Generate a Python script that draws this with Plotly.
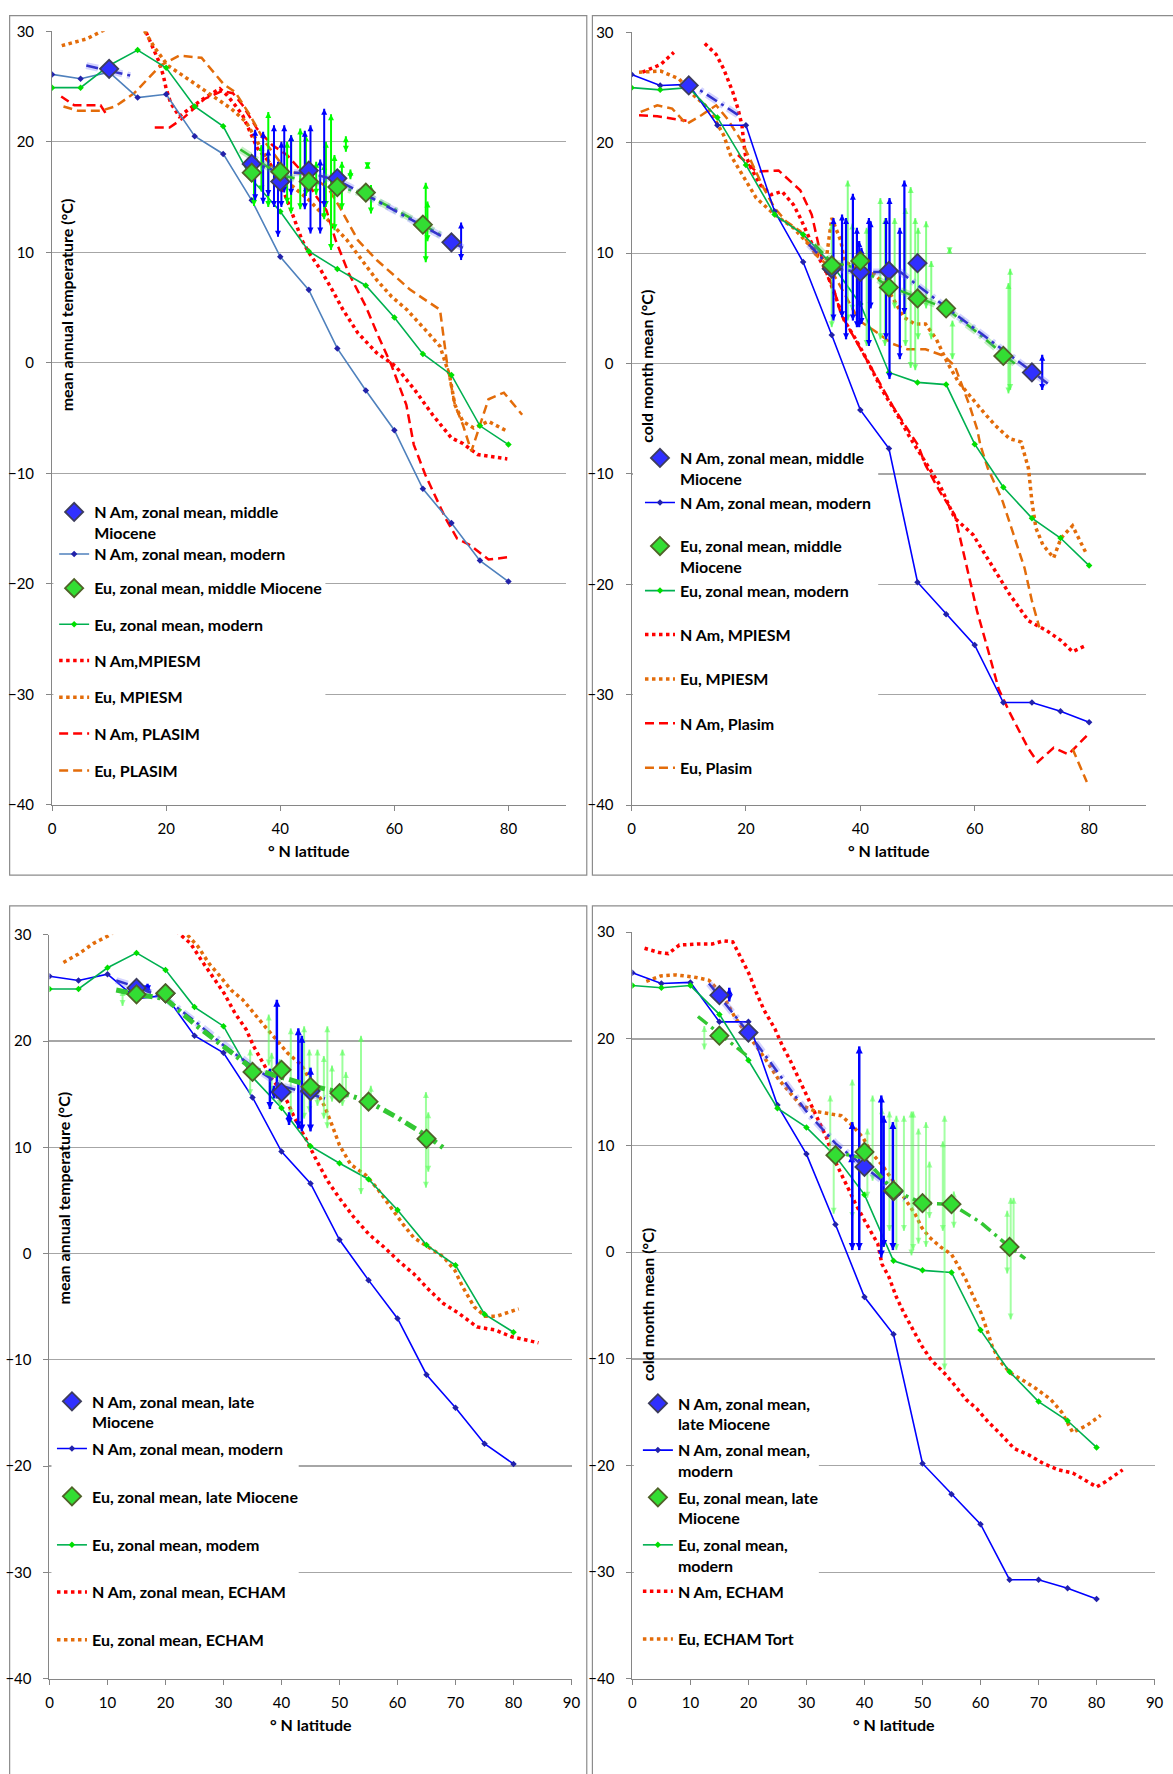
import plotly.graph_objects as go

W, H = 1173, 1774

# ====================== DATA ======================
lat_modern = [0, 5, 10, 15, 20, 25, 30, 35, 40, 45, 50, 55, 60, 65, 70, 75, 80]
nam_mat_modern = [26.1, 25.7, 26.3, 24.0, 24.3, 20.5, 18.9, 14.7, 9.6, 6.6, 1.3, -2.5, -6.1, -11.4, -14.5, -17.9, -19.8]
eu_mat_modern = [24.9, 24.9, 26.9, 28.3, 26.7, 23.2, 21.4, 16.6, 13.7, 10.1, 8.5, 7.0, 4.1, 0.8, -1.1, -5.7, -7.4]
nam_cmm_modern = [26.2, 25.2, 25.3, 21.6, 21.6, 13.8, 9.2, 2.6, -4.2, -7.7, -19.8, -22.7, -25.5, -30.7, -30.7, -31.5, -32.5]
eu_cmm_modern = [25.0, 24.8, 25.0, 22.3, 18.0, 13.5, 11.7, 9.0, 5.4, -0.8, -1.7, -1.9, -7.3, -11.2, -14.0, -15.8, -18.3]

# ---- panel A: mean annual temperature, middle Miocene ----
a_nam_mpiesm_lat = [16.0, 17.5, 18.7, 19.5, 20.0, 20.8, 22.3, 24.9, 26.8, 29.4, 30.7, 32.1, 33.4, 34.7, 36.0, 38.0, 39.9, 41.9, 43.8, 45.1, 47.1, 49.1, 51.0, 53.6, 56.9, 60.2, 63.5, 66.7, 70.0, 72.0, 74.6, 79.8]
a_nam_mpiesm_val = [30.5, 28.8, 27.3, 26.0, 24.8, 23.5, 22.3, 23.3, 24.0, 24.8, 24.2, 23.3, 22.4, 20.9, 19.4, 18.2, 16.4, 13.8, 11.1, 9.9, 8.4, 6.6, 4.8, 2.7, 0.9, -0.3, -2.4, -4.7, -6.8, -7.3, -8.3, -8.7]
a_eu_mpiesm_lat = [1.7, 4.0, 6.0, 8.3, 10.5, 13.0, 16.0, 18.0, 20.3, 22.9, 26.2, 28.8, 31.4, 34.0, 36.0, 38.0, 41.2, 45.1, 48.4, 51.7, 54.3, 56.9, 59.5, 62.2, 65.4, 68.0, 69.7, 70.6, 72.0, 73.9, 76.5, 79.8]
a_eu_mpiesm_val = [28.7, 29.0, 29.3, 29.9, 30.5, 31.0, 30.2, 28.5, 26.9, 26.0, 24.8, 23.9, 23.0, 21.8, 20.0, 18.2, 16.4, 14.7, 12.9, 11.1, 9.3, 7.5, 6.0, 4.8, 3.0, 1.5, -1.2, -3.8, -5.3, -5.9, -5.3, -6.2]
a_nam_plasim_lat = [1.6, 3.9, 8.5, 9.5, None, 18.0, 20.6, 22.9, 26.8, 29.8, 31.7, 33.4, 35.9, 38.6, 41.2, 43.8, 46.1, 48.1, 49.7, 52.0, 55.0, 57.2, 59.4, 62.1, 63.4, 65.4, 69.0, 71.0, 73.3, 76.5, 79.8]
a_nam_plasim_val = [24.1, 23.3, 23.3, 22.5, None, 21.3, 21.3, 22.1, 23.9, 24.6, 24.4, 23.3, 21.2, 19.7, 18.8, 17.3, 15.2, 13.8, 11.1, 8.1, 5.1, 2.4, -0.1, -3.8, -7.4, -10.1, -14.1, -15.9, -16.5, -17.8, -17.6]
a_eu_plasim_lat = [2.0, 4.6, 8.5, 11.1, 14.4, 19.0, 22.3, 26.2, 30.1, 32.1, 34.7, 37.3, 41.2, 45.1, 48.4, 50.4, 53.6, 56.9, 60.2, 62.8, 68.0, 69.3, 70.6, 72.0, 73.5, 76.5, 79.2, 82.4]
a_eu_plasim_val = [23.2, 22.8, 22.8, 23.2, 24.4, 26.9, 27.8, 27.6, 25.2, 24.5, 22.4, 20.0, 17.3, 17.0, 15.8, 14.1, 11.1, 9.3, 7.8, 6.6, 4.8, -0.3, -3.8, -5.6, -8.0, -3.3, -2.7, -4.7]
a_nam_mm_lat = [10, 35, 40, 45, 50, 70]
a_nam_mm_val = [26.6, 18.0, 16.4, 17.4, 16.7, 10.9]
a_eu_mm_lat = [35, 40, 45, 50, 55, 65]
a_eu_mm_val = [17.2, 17.3, 16.4, 15.9, 15.4, 12.5]
a_nam_trend_lat = [6, 14.5, None, 34, 40, 45, 50, 55, 60, 65, 72]
a_nam_trend_val = [26.9, 25.9, None, 18.3, 17.2, 17.2, 16.5, 15.2, 13.8, 12.4, 10.4]
a_eu_trend_lat = [33, 40, 45, 50, 55, 60, 65, 68]
a_eu_trend_val = [19.3, 17.0, 16.4, 16.0, 15.2, 13.9, 12.5, 11.6]
a_nam_bar_lat = [35.6, 37.0, 37.9, 38.9, 39.6, 40.2, 40.7, 41.9, 44.3, 45.3, 47.0, 47.7, 71.7]
a_nam_bar_hi = [21.1, 20.9, 19.3, 21.5, 18.2, 20.0, 21.5, 20.6, 21.0, 21.5, 18.4, 23.0, 12.7]
a_nam_bar_lo = [14.7, 14.4, 15.1, 14.1, 11.4, 14.1, 15.4, 15.2, 13.9, 11.7, 11.7, 14.1, 9.3]
a_eu_bar_lat = [35.4, 36.7, 37.9, 41.2, 41.9, 43.5, 44.5, 46.3, 47.7, 48.0, 48.9, 49.5, 50.8, 51.5, 52.3, 55.3, 55.9, 65.5, 65.8]
a_eu_bar_hi = [17.9, 19.7, 22.7, 20.0, 20.6, 21.2, 20.6, 18.2, 18.0, 20.0, 22.5, 18.8, 18.2, 20.5, 17.5, 18.1, 16.1, 16.3, 14.6]
a_eu_bar_lo = [14.2, 15.5, 14.1, 14.4, 13.5, 13.9, 15.1, 15.2, 13.0, 14.1, 10.2, 12.0, 13.9, 19.1, 16.6, 17.6, 13.5, 9.1, 11.0]

# ---- panel B: cold month mean, middle Miocene ----
b_nam_mpiesm_lat = [1.9, 5.1, 7.4, None, 12.8, 14.8, 16.1, 17.7, 18.6, 19.3, 19.6, 19.9, 20.9, 22.5, 24.4, 26.3, 28.3, 29.5, 30.8, 32.1, 34.0, 35.3, 37.2, 39.2, 41.1, 43.7, 46.2, 48.8, 51.4, 53.9, 56.5, 59.7, 62.9, 66.1, 69.4, 72.6, 75.1, 77.1, 79.6]
b_nam_mpiesm_val = [26.4, 27.1, 28.2, None, 29.0, 28.0, 26.7, 24.6, 23.1, 21.6, 20.1, 18.9, 17.7, 16.2, 15.3, 15.6, 14.4, 13.2, 11.7, 10.2, 8.4, 6.6, 3.9, 2.2, 0.4, -2.3, -4.4, -6.8, -8.9, -11.0, -14.0, -15.5, -18.2, -20.9, -23.3, -24.2, -25.1, -26.1, -25.5]
b_eu_mpiesm_lat = [1.3, 5.1, 8.3, 10.9, 13.5, 16.1, 17.3, 19.3, 21.8, 25.0, 28.3, 31.5, 34.0, 35.0, 36.6, 37.2, 39.8, 42.4, 44.3, 45.6, 47.6, 49.5, 51.4, 53.3, 55.2, 57.2, 59.1, 61.7, 63.6, 66.1, 68.1, 69.4, 70.0, 70.7, 71.9, 73.8, 75.1, 77.1, 79.6]
b_eu_mpiesm_val = [26.4, 26.5, 25.8, 24.3, 23.1, 20.7, 18.9, 17.1, 15.0, 13.5, 12.3, 10.5, 9.3, 13.2, 11.1, 9.3, 8.4, 8.1, 7.2, 6.0, 4.2, 3.6, 3.6, 2.2, 0.1, -1.7, -2.9, -4.5, -5.6, -6.8, -7.1, -9.5, -12.5, -14.9, -16.4, -17.6, -15.8, -14.7, -17.3]
b_nam_plasim_lat = [1.3, 4.5, 9.6, None, 18.6, 21.8, 25.7, 29.5, 31.5, 32.8, 34.0, 35.3, 36.6, 38.5, 40.5, 43.0, 45.6, 48.2, 50.1, 51.4, 53.9, 56.5, 58.4, 60.4, 62.3, 64.2, 66.1, 69.4, 71.0, 73.8, 76.4, 79.6]
b_nam_plasim_val = [22.5, 22.4, 22.0, None, 18.9, 17.4, 17.5, 15.7, 13.5, 10.5, 8.1, 6.9, 4.5, 2.7, 0.9, -1.4, -3.8, -5.9, -7.4, -9.2, -11.6, -13.7, -17.9, -22.4, -25.9, -29.5, -31.6, -34.9, -36.1, -34.8, -35.4, -33.7]
b_eu_plasim_lat = [1.6, 4.5, 7.1, 9.6, 12.2, 14.8, 16.7, 19.3, 21.2, 23.1, 25.0, 27.0, 29.5, 32.1, 34.7, 37.2, 39.8, 42.4, 45.6, 48.2, 51.4, 54.6, 56.5, 57.8, 59.1, 60.4, 61.0, 62.3, 64.9, 66.8, 68.7, 70.0, 71.3, None, 77.1, 79.6]
b_eu_plasim_val = [22.8, 23.4, 23.1, 21.7, 22.5, 23.4, 22.2, 20.1, 18.0, 15.9, 14.1, 12.9, 12.0, 9.9, 8.7, 6.3, 3.9, 3.0, 1.8, 1.3, 1.3, 0.7, -0.2, -2.0, -3.8, -5.9, -7.4, -9.5, -12.5, -15.5, -18.5, -21.5, -23.9, None, -34.9, -37.9]
b_nam_mm_lat = [10, 35, 40, 45, 50, 70]
b_nam_mm_val = [25.2, 8.6, 8.3, 8.4, 9.1, -0.8]
b_eu_mm_lat = [35, 40, 45, 50, 55, 65]
b_eu_mm_val = [8.9, 9.3, 6.9, 5.9, 5.0, 0.7]
b_nam_trend_lat = [9.5, 19.0, None, 31, 35, 40, 47, 55, 65, 73]
b_nam_trend_val = [25.6, 22.4, None, 10.8, 8.6, 8.3, 8.3, 5.1, 1.2, -1.9]
b_eu_trend_lat = [32, 35, 40, 45, 50, 55, 60, 67]
b_eu_trend_val = [10.8, 9.2, 8.6, 7.0, 6.0, 5.0, 3.0, 0.0]
b_nam_bar_lat = [35.3, 36.8, 37.5, 38.7, 39.4, 39.8, 40.2, 41.5, 41.8, 44.5, 45.1, 46.9, 47.7, 71.8]
b_nam_bar_hi = [13.2, 13.5, 13.2, 15.4, 12.3, 11.1, 10.5, 13.2, 12.9, 13.2, 15.0, 12.3, 16.6, 0.8]
b_nam_bar_lo = [3.9, 4.2, 2.2, 3.9, 3.3, 3.3, 3.6, 1.6, 5.0, 2.2, -1.4, 0.4, 4.5, -2.4]
b_eu_bar_lat = [35.0, 37.8, 38.6, 41.1, 43.5, 44.3, 46.0, 47.9, 48.8, 49.6, 50.1, 51.5, 52.4, 55.6, 56.1, 65.9, 66.2]
b_eu_bar_hi = [12.7, 16.6, 12.7, 12.3, 15.0, 13.2, 13.2, 14.1, 16.0, 13.2, 12.3, 12.9, 9.3, 10.5, 3.9, 7.3, 8.6]
b_eu_bar_lo = [3.3, 3.9, 4.8, 1.6, 2.2, 1.6, 5.0, 1.6, -0.4, -0.6, 2.2, 5.0, 2.2, 10.0, 0.4, -2.7, -2.4]

# ---- panel C: mean annual temperature, late Miocene ----
c_nam_echam_lat = [20.0, 22.3, 24.3, 26.2, 28.1, 30.1, 32.0, 33.9, 35.2, 37.1, 38.4, 39.7, 41.0, 42.3, 44.2, 46.1, 48.0, 50.0, 52.5, 55.1, 57.7, 60.2, 62.8, 65.4, 67.9, 70.5, 73.7, 76.9, 79.5, 84.3]
c_nam_echam_val = [31.2, 30.1, 29.2, 27.6, 26.1, 24.5, 22.6, 21.1, 19.5, 17.7, 16.4, 15.5, 14.3, 12.7, 10.8, 8.7, 6.8, 5.2, 3.4, 1.8, 0.6, -0.7, -1.9, -3.4, -4.7, -5.6, -6.9, -7.2, -7.8, -8.4]
c_eu_echam_lat = [2.4, 5.0, 7.6, 10.1, 12.0, 16.0, 20.0, 23.6, 25.6, 27.5, 29.4, 31.3, 33.3, 35.2, 37.1, 39.0, 41.0, 43.5, 45.5, 47.4, 48.7, 50.0, 51.9, 54.5, 56.4, 58.9, 60.9, 62.8, 65.4, 67.9, 69.9, 71.2, 73.2, 75.1, 77.1, 80.9]
c_eu_echam_val = [27.4, 28.2, 29.2, 29.9, 30.6, 31.5, 31.3, 30.1, 28.9, 27.3, 26.1, 24.8, 23.9, 22.6, 21.4, 20.2, 18.9, 17.7, 15.8, 13.9, 12.1, 10.2, 8.4, 7.4, 6.2, 4.3, 2.8, 1.5, 0.6, -0.3, -1.6, -3.1, -5.0, -5.9, -5.9, -5.2]
c_nam_lm_lat = [15, 20, 40, 45]
c_nam_lm_val = [25.0, 24.5, 15.2, 15.3]
c_eu_lm_lat = [15, 20, 35, 40, 45, 50, 55, 65]
c_eu_lm_val = [24.4, 24.5, 17.1, 17.3, 15.7, 15.1, 14.3, 10.8]
c_nam_trend_lat = [11.5, 15, 20, 25, 30, 35, 40, 47.5]
c_nam_trend_val = [25.7, 25.1, 24.0, 21.9, 19.6, 17.6, 15.8, 14.6]
c_eu_trend_lat = [11.5, 15, 20, 25, 30, 35, 40, 45, 50, 55, 60, 65, 68.3]
c_eu_trend_val = [24.8, 24.4, 24.0, 21.6, 19.5, 17.4, 16.6, 15.8, 15.2, 14.3, 12.8, 11.1, 9.8]
c_nam_bar_lat = [16.9, 38.0, 38.7, 39.2, 41.3, 42.9, 43.5, 45.0]
c_nam_bar_hi = [25.4, 17.4, 15.8, 23.9, 13.3, 21.2, 20.5, 17.5]
c_nam_bar_lo = [24.6, 13.6, 14.6, 14.6, 12.1, 11.8, 11.5, 11.5]
c_eu_bar_lat = [12.6, 34.6, 37.8, 38.3, 39.7, 41.6, 43.9, 44.8, 46.2, 47.3, 47.9, 48.7, 50.5, 51.1, 53.7, 55.4, 64.9, 65.3]
c_eu_bar_hi = [24.8, 19.2, 22.5, 18.9, 18.3, 21.2, 21.4, 19.2, 19.2, 18.6, 21.4, 17.7, 19.2, 17.1, 20.5, 15.8, 15.2, 13.3]
c_eu_bar_lo = [23.3, 14.9, 17.7, 15.2, 13.9, 13.0, 12.7, 13.3, 13.9, 12.7, 11.8, 14.3, 13.9, 14.6, 5.6, 13.6, 6.2, 7.7]

# ---- panel D: cold month mean, late Miocene ----
d_nam_echam_lat = [2.1, 4.6, 6.2, 8.1, 11.3, 13.8, 15.7, 17.3, 18.9, 20.2, 21.4, 22.7, 24.6, 25.9, 27.1, 28.4, 29.7, 30.9, 31.9, 33.5, 34.7, 36.0, 37.3, 38.5, 40.4, 42.3, 43.0, 44.2, 45.5, 46.8, 48.7, 49.9, 51.5, 53.7, 55.6, 57.5, 59.4, 61.3, 63.2, 65.8, 68.3, 70.8, 73.4, 75.9, 78.1, 80.0, 81.6, 84.5]
d_nam_echam_val = [28.5, 28.1, 28.0, 28.8, 28.9, 28.9, 29.2, 29.1, 27.4, 26.0, 24.3, 22.7, 20.9, 19.3, 18.1, 16.6, 15.0, 13.8, 12.5, 10.7, 8.8, 7.3, 5.7, 4.5, 2.6, 0.8, -1.1, -2.3, -4.2, -5.7, -7.6, -8.8, -10.1, -11.3, -12.5, -13.8, -14.7, -15.9, -16.9, -18.4, -19.0, -19.8, -20.4, -20.7, -21.4, -22.0, -21.5, -20.4]
d_eu_echam_lat = [2.4, 4.9, 7.5, 10.6, 13.2, 15.1, 16.3, 17.6, 19.5, 21.4, 23.3, 25.2, 27.1, 29.0, 31.6, 34.1, 36.0, 37.9, 39.8, 41.1, 43.0, 44.9, 46.8, 48.7, 49.9, 51.2, 53.1, 55.0, 56.3, 57.5, 58.8, 60.1, 61.3, 62.0, 63.2, 65.1, 67.0, 69.6, 72.1, 74.0, 75.9, 78.4, 80.7]
d_eu_echam_val = [25.4, 25.9, 26.0, 25.8, 25.5, 24.4, 23.4, 22.1, 20.6, 19.3, 17.8, 16.2, 15.0, 13.8, 13.2, 13.0, 12.8, 11.9, 10.7, 9.4, 8.2, 6.7, 5.1, 3.6, 2.3, 1.4, 0.5, -0.2, -1.4, -2.6, -4.2, -5.7, -7.6, -8.8, -10.1, -11.3, -11.9, -12.8, -13.8, -15.0, -16.9, -16.2, -15.3]
d_nam_lm_lat = [15, 20, 40, 45]
d_nam_lm_val = [24.1, 20.6, 8.0, 5.7]
d_eu_lm_lat = [15, 35, 40, 45, 50, 55, 65]
d_eu_lm_val = [20.3, 9.1, 9.4, 5.8, 4.6, 4.5, 0.5]
d_nam_trend_lat = [13.2, 15, 20, 25, 30, 35, 40, 45, 47]
d_nam_trend_val = [25.2, 24.0, 20.6, 16.9, 13.2, 10.2, 8.0, 5.9, 5.0]
d_eu_trend_lat = [11.3, 19.8, None, 34, 40, 45, 50, 55, 60, 65, 67.7]
d_eu_trend_val = [22.1, 18.4, None, 9.5, 8.8, 5.8, 4.6, 4.5, 2.8, 0.5, -0.6]
d_nam_bar_lat = [16.7, 37.8, 37.9, 39.1, 42.9, 43.3, 44.9]
d_nam_bar_hi = [24.8, 9.1, 12.2, 19.3, 14.7, 12.8, 12.2]
d_nam_bar_lo = [23.5, 8.5, 0.2, 0.2, -0.5, 0.5, 0.2]
d_eu_bar_lat = [12.4, 34.1, 34.7, 37.9, 40.5, 41.4, 43.0, 44.3, 45.5, 46.8, 48.1, 48.4, 49.3, 50.6, 51.2, 53.5, 53.8, 55.4, 64.6, 65.2, 65.7]
d_eu_bar_hi = [21.2, 14.7, 9.1, 16.2, 11.6, 14.7, 13.5, 13.2, 12.8, 12.8, 13.2, 13.2, 11.6, 12.2, 8.5, 10.4, 12.8, 5.7, 3.9, 5.1, 5.1]
d_eu_bar_lo = [19.0, 9.1, 3.6, 3.2, 5.1, 6.7, 0.2, 2.0, 0.2, 2.0, -0.3, 0.2, 0.8, 0.5, 3.2, 2.0, -11.0, 2.3, -2.0, -6.3, 0.2]

# ====================== STYLE / LAYOUT ======================
FONT = "Lato"
RED = "#ff0000"
ORANGE = "#e36c0a"
BLUE = "#0000ff"
STEEL = "#4f81bd"
EUGREEN = "#00b050"

# panel geometry in page pixels: x-range 0..90, y-range -40..30
PANELS = {
    "a": dict(xpx=(48.6, 567.8), ypx=(21.5, 803.0), xa="x", ya="y", dtick=20),
    "b": dict(xpx=(634.6, 1155.1), ypx=(22.7, 803.3), xa="x2", ya="y2", dtick=20),
    "c": dict(xpx=(46.0, 573.9), ypx=(934.3, 1685.7), xa="x3", ya="y3", dtick=10),
    "d": dict(xpx=(635.4, 1163.5), ypx=(931.7, 1686.0), xa="x4", ya="y4", dtick=10),
}

fig = go.Figure()
legends = {}
leg_count = [0]
LEGFONT = dict(family=FONT, size=16, color="#000000", weight="bold")
LEG_OFFSET = 20.5


def new_legend(left_px, line1_px):
    leg_count[0] += 1
    k = leg_count[0]
    key = "legend" if k == 1 else "legend%d" % k
    legends[key] = dict(x=left_px / W, y=1 - (line1_px - LEG_OFFSET) / H, xanchor="left", yanchor="top",
                        bgcolor="rgba(0,0,0,0)", borderwidth=0, font=LEGFONT, valign="top",
                        itemclick=False, itemdoubleclick=False)
    return key


def line(p, x, y, color, width, dash="solid", marker=None, name=None, leg=None):
    P = PANELS[p]
    kw = dict(x=x, y=y, xaxis=P["xa"], yaxis=P["ya"], hoverinfo="skip",
              line=dict(color=color, width=width, dash=dash), connectgaps=False)
    if marker:
        kw["mode"] = "lines+markers"
        kw["marker"] = marker
    else:
        kw["mode"] = "lines"
    if leg:
        kw["name"] = name
        kw["legend"] = leg
        kw["showlegend"] = True
    else:
        kw["showlegend"] = False
    fig.add_trace(go.Scatter(**kw))


def diamonds(p, x, y, fill, edge, name, leg):
    P = PANELS[p]
    fig.add_trace(go.Scatter(x=x, y=y, xaxis=P["xa"], yaxis=P["ya"], mode="markers", name=name,
                             legend=leg, showlegend=True, hoverinfo="skip",
                             marker=dict(symbol="diamond", size=14, color=fill,
                                         line=dict(color=edge, width=1.8))))


def bars(p, lat, hi, lo, color, width, asize):
    P = PANELS[p]
    mid = [(h + l) / 2 for h, l in zip(hi, lo)]
    err = [(h - l) / 2 for h, l in zip(hi, lo)]
    fig.add_trace(go.Scatter(x=lat, y=mid, xaxis=P["xa"], yaxis=P["ya"], mode="markers",
                             marker=dict(size=1, opacity=0), showlegend=False, hoverinfo="skip",
                             error_y=dict(type="data", array=err, symmetric=True, color=color,
                                          thickness=width, width=0)))
    fig.add_trace(go.Scatter(x=lat, y=hi, xaxis=P["xa"], yaxis=P["ya"], mode="markers",
                             marker=dict(symbol="arrow-up", size=asize, color=color),
                             showlegend=False, hoverinfo="skip"))
    fig.add_trace(go.Scatter(x=lat, y=lo, xaxis=P["xa"], yaxis=P["ya"], mode="markers",
                             marker=dict(symbol="arrow-down", size=asize, color=color),
                             showlegend=False, hoverinfo="skip"))


DASHDOT = "12px,5px,3px,5px"
DOT = "3.5px,3.5px"
DASH = "9px,5px"
nam_mod_marker = dict(symbol="diamond", size=5, color="#2222aa")
eu_mod_marker = dict(symbol="diamond", size=5, color="#00e000")
NAM_DIA = ("#3030ff", "#3d3d5c")
EU_DIA = ("#33dd33", "#4f6228")

# ---------------- panel A ----------------
LA, TA = 50.7, [510.5, 553.0, 587.5, 624.0, 660.7, 697.7, 734.3, 771.7]
line("a", a_nam_mpiesm_lat, a_nam_mpiesm_val, RED, 3.5, DOT)
line("a", a_eu_mpiesm_lat, a_eu_mpiesm_val, ORANGE, 3.5, DOT)
line("a", a_nam_plasim_lat, a_nam_plasim_val, RED, 2.5, DASH)
line("a", a_eu_plasim_lat, a_eu_plasim_val, ORANGE, 2.5, DASH)
line("a", lat_modern, nam_mat_modern, STEEL, 1.6, marker=nam_mod_marker)
line("a", lat_modern, eu_mat_modern, EUGREEN, 1.6, marker=eu_mod_marker)
bars("a", a_eu_bar_lat, a_eu_bar_hi, a_eu_bar_lo, "#00ff00", 2, 6)
bars("a", a_nam_bar_lat, a_nam_bar_hi, a_nam_bar_lo, BLUE, 2, 6)
line("a", a_eu_trend_lat, a_eu_trend_val, "rgba(60,200,60,0.3)", 7, DASHDOT)
line("a", a_eu_trend_lat, a_eu_trend_val, "#2fbf2f", 2.5, DASHDOT)
line("a", a_nam_trend_lat, a_nam_trend_val, "rgba(110,110,255,0.3)", 7, DASHDOT)
line("a", a_nam_trend_lat, a_nam_trend_val, "#3333cc", 2.5, DASHDOT)
diamonds("a", a_nam_mm_lat, a_nam_mm_val, *NAM_DIA, "N Am, zonal mean, middle<br>Miocene", new_legend(LA, TA[0]))
line("a", [None], [None], STEEL, 1.6, marker=nam_mod_marker, name="N Am, zonal mean, modern", leg=new_legend(LA, TA[1]))
diamonds("a", a_eu_mm_lat, a_eu_mm_val, *EU_DIA, "Eu, zonal mean, middle Miocene", new_legend(LA, TA[2]))
line("a", [None], [None], EUGREEN, 1.6, marker=eu_mod_marker, name="Eu, zonal mean, modern", leg=new_legend(LA, TA[3]))
line("a", [None], [None], RED, 3.5, DOT, name="N Am,MPIESM", leg=new_legend(LA, TA[4]))
line("a", [None], [None], ORANGE, 3.5, DOT, name="Eu, MPIESM", leg=new_legend(LA, TA[5]))
line("a", [None], [None], RED, 2.5, DASH, name="N Am, PLASIM", leg=new_legend(LA, TA[6]))
line("a", [None], [None], ORANGE, 2.5, DASH, name="Eu, PLASIM", leg=new_legend(LA, TA[7]))

# ---------------- panel B ----------------
LB, TB = 643.1, [456.0, 501.0, 545.0, 590.0, 634.3, 679.3, 724.0, 769.0]
line("b", b_nam_mpiesm_lat, b_nam_mpiesm_val, RED, 3.5, DOT)
line("b", b_eu_mpiesm_lat, b_eu_mpiesm_val, ORANGE, 3.5, DOT)
line("b", b_nam_plasim_lat, b_nam_plasim_val, RED, 2.5, DASH)
line("b", b_eu_plasim_lat, b_eu_plasim_val, ORANGE, 2.5, DASH)
line("b", lat_modern, nam_cmm_modern, BLUE, 1.6, marker=nam_mod_marker)
line("b", lat_modern, eu_cmm_modern, EUGREEN, 1.6, marker=eu_mod_marker)
bars("b", b_eu_bar_lat, b_eu_bar_hi, b_eu_bar_lo, "rgba(70,255,70,0.65)", 2, 6)
bars("b", b_nam_bar_lat, b_nam_bar_hi, b_nam_bar_lo, BLUE, 2.2, 6)
line("b", b_eu_trend_lat, b_eu_trend_val, "rgba(60,200,60,0.3)", 7, DASHDOT)
line("b", b_eu_trend_lat, b_eu_trend_val, "#2fbf2f", 2.5, DASHDOT)
line("b", b_nam_trend_lat, b_nam_trend_val, "rgba(110,110,255,0.3)", 7, DASHDOT)
line("b", b_nam_trend_lat, b_nam_trend_val, "#3333cc", 2.5, DASHDOT)
diamonds("b", b_nam_mm_lat, b_nam_mm_val, *NAM_DIA, "N Am, zonal mean, middle<br>Miocene", new_legend(LB, TB[0]))
line("b", [None], [None], BLUE, 1.6, marker=nam_mod_marker, name="N Am, zonal mean, modern", leg=new_legend(LB, TB[1]))
diamonds("b", b_eu_mm_lat, b_eu_mm_val, *EU_DIA, "Eu, zonal mean, middle<br>Miocene", new_legend(LB, TB[2]))
line("b", [None], [None], EUGREEN, 1.6, marker=eu_mod_marker, name="Eu, zonal mean, modern", leg=new_legend(LB, TB[3]))
line("b", [None], [None], RED, 3.5, DOT, name="N Am, MPIESM", leg=new_legend(LB, TB[4]))
line("b", [None], [None], ORANGE, 3.5, DOT, name="Eu, MPIESM", leg=new_legend(LB, TB[5]))
line("b", [None], [None], RED, 2.5, DASH, name="N Am, Plasim", leg=new_legend(LB, TB[6]))
line("b", [None], [None], ORANGE, 2.5, DASH, name="Eu, Plasim", leg=new_legend(LB, TB[7]))

# ---------------- panel C ----------------
LC, TC = 48.5, [1409.0, 1456.7, 1505.0, 1554.0, 1601.7, 1650.0]
line("c", c_nam_echam_lat, c_nam_echam_val, RED, 3.5, DOT)
line("c", c_eu_echam_lat, c_eu_echam_val, ORANGE, 3.5, DOT)
line("c", lat_modern, nam_mat_modern, BLUE, 1.6, marker=nam_mod_marker)
line("c", lat_modern, eu_mat_modern, EUGREEN, 1.6, marker=eu_mod_marker)
bars("c", c_eu_bar_lat, c_eu_bar_hi, c_eu_bar_lo, "rgba(90,255,90,0.6)", 2, 6)
bars("c", c_nam_bar_lat, c_nam_bar_hi, c_nam_bar_lo, BLUE, 2.5, 7)
line("c", c_nam_trend_lat, c_nam_trend_val, "rgba(110,110,255,0.3)", 7, DASHDOT)
line("c", c_nam_trend_lat, c_nam_trend_val, "#3333cc", 2.5, DASHDOT)
line("c", c_eu_trend_lat, c_eu_trend_val, "#33c733", 5, DASHDOT)
diamonds("c", c_nam_lm_lat, c_nam_lm_val, *NAM_DIA, "N Am, zonal mean, late<br>Miocene", new_legend(LC, TC[0]))
line("c", [None], [None], BLUE, 1.6, marker=nam_mod_marker, name="N Am, zonal mean, modern", leg=new_legend(LC, TC[1]))
diamonds("c", c_eu_lm_lat, c_eu_lm_val, *EU_DIA, "Eu, zonal mean, late Miocene", new_legend(LC, TC[2]))
line("c", [None], [None], EUGREEN, 1.6, marker=eu_mod_marker, name="Eu, zonal mean, modem", leg=new_legend(LC, TC[3]))
line("c", [None], [None], RED, 3.5, DOT, name="N Am, zonal mean, ECHAM", leg=new_legend(LC, TC[4]))
line("c", [None], [None], ORANGE, 3.5, DOT, name="Eu, zonal mean, ECHAM", leg=new_legend(LC, TC[5]))

# ---------------- panel D ----------------
LD, TD = 641.0, [1411.0, 1458.3, 1506.0, 1554.0, 1601.0, 1649.0]
line("d", d_nam_echam_lat, d_nam_echam_val, RED, 3.5, DOT)
line("d", d_eu_echam_lat, d_eu_echam_val, ORANGE, 3.5, DOT)
line("d", lat_modern, nam_cmm_modern, BLUE, 1.6, marker=nam_mod_marker)
line("d", lat_modern, eu_cmm_modern, EUGREEN, 1.6, marker=eu_mod_marker)
bars("d", d_eu_bar_lat, d_eu_bar_hi, d_eu_bar_lo, "rgba(90,255,90,0.55)", 2, 6)
bars("d", d_nam_bar_lat, d_nam_bar_hi, d_nam_bar_lo, BLUE, 2.5, 7)
line("d", d_nam_trend_lat, d_nam_trend_val, "rgba(110,110,255,0.3)", 7, DASHDOT)
line("d", d_nam_trend_lat, d_nam_trend_val, "#3333cc", 2.5, DASHDOT)
line("d", d_eu_trend_lat, d_eu_trend_val, "#33c733", 3.5, DASHDOT)
diamonds("d", d_nam_lm_lat, d_nam_lm_val, *NAM_DIA, "N Am, zonal mean,<br>late Miocene", new_legend(LD, TD[0]))
line("d", [None], [None], BLUE, 1.6, marker=nam_mod_marker, name="N Am, zonal mean,<br>modern", leg=new_legend(LD, TD[1]))
diamonds("d", d_eu_lm_lat, d_eu_lm_val, *EU_DIA, "Eu, zonal mean, late<br>Miocene", new_legend(LD, TD[2]))
line("d", [None], [None], EUGREEN, 1.6, marker=eu_mod_marker, name="Eu, zonal mean,<br>modern", leg=new_legend(LD, TD[3]))
line("d", [None], [None], RED, 3.5, DOT, name="N Am, ECHAM", leg=new_legend(LD, TD[4]))
line("d", [None], [None], ORANGE, 3.5, DOT, name="Eu, ECHAM Tort", leg=new_legend(LD, TD[5]))

# ---------------- axes ----------------
TICKFONT = dict(family=FONT, size=15, color="#000000")
axes = {}
for i, key in enumerate(["a", "b", "c", "d"]):
    P = PANELS[key]
    sfx = "" if i == 0 else str(i + 1)
    xd = [P["xpx"][0] / W, P["xpx"][1] / W]
    yd = [1 - P["ypx"][1] / H, 1 - P["ypx"][0] / H]
    axes["xaxis" + sfx] = dict(domain=xd, anchor="y" + sfx, range=[0, 90], tick0=0, dtick=P["dtick"],
                               showgrid=False, zeroline=False, showline=True, linecolor="#868686",
                               linewidth=1, ticks="outside", ticklen=5, tickcolor="#868686",
                               tickfont=TICKFONT, ticklabelstandoff=5, fixedrange=True)
    axes["yaxis" + sfx] = dict(domain=yd, anchor="x" + sfx, range=[-40, 30], tick0=0, dtick=10,
                               showgrid=True, gridcolor="#a6a6a6", gridwidth=1.2, zeroline=False,
                               showline=True, linecolor="#868686", linewidth=1, ticks="outside",
                               ticklen=5, tickcolor="#868686", tickfont=TICKFONT,
                               ticklabelstandoff=9, fixedrange=True)


def px2x(p, px):
    P = PANELS[p]
    return (px - P["xpx"][0]) / (P["xpx"][1] - P["xpx"][0]) * 90


def px2y(p, py):
    P = PANELS[p]
    return 30 - (py - P["ypx"][0]) / (P["ypx"][1] - P["ypx"][0]) * 70


shapes = []
# white legend backgrounds (hide gridlines behind legend, as in the original)
for p, (x0, x1, y0, y1) in {"a": (50, 325, 478, 795), "b": (636, 884, 440, 795),
                            "c": (48, 298, 1378, 1680), "d": (637, 824, 1378, 1680)}.items():
    P = PANELS[p]
    shapes.append(dict(type="rect", xref=P["xa"], yref=P["ya"], layer="between",
                       x0=px2x(p, x0), x1=px2x(p, x1), y0=px2y(p, y1), y1=px2y(p, y0),
                       fillcolor="white", line=dict(width=0)))
# chart-area borders
for (x0, y0, x1, y1) in [(5.7, 5.7, 589.3, 874.0), (595.0, 5.7, 1185, 874.0),
                         (5.7, 905.0, 589.3, 1790), (595.0, 905.0, 1185, 1790)]:
    shapes.append(dict(type="rect", xref="paper", yref="paper", layer="below",
                       x0=x0 / W, x1=x1 / W, y0=1 - y1 / H, y1=1 - y0 / H,
                       line=dict(color="#8c8c8c", width=1.2), fillcolor="rgba(0,0,0,0)"))

TITLEFONT = dict(family=FONT, size=16, color="#000000", weight="bold")
annotations = []
for (txt, x, y) in [("mean annual temperature (°C)", 64.1, 298), ("cold month mean (°C)", 649.6, 360),
                    ("mean annual temperature (°C)", 60.3, 1200), ("cold month mean (°C)", 651.4, 1308)]:
    annotations.append(dict(text=txt, x=x / W, y=1 - y / H, xref="paper", yref="paper",
                            textangle=-90, showarrow=False, font=TITLEFONT,
                            xanchor="center", yanchor="middle"))
for (x, y) in [(308, 849), (895.3, 849), (310, 1731.7), (900, 1731.7)]:
    annotations.append(dict(text="° N latitude", x=x / W, y=1 - y / H, xref="paper", yref="paper",
                            showarrow=False, font=TITLEFONT, xanchor="center", yanchor="middle"))

fig.update_layout(width=W, height=H, margin=dict(l=0, r=0, t=0, b=0), autosize=False,
                  paper_bgcolor="white", plot_bgcolor="white", hovermode=False,
                  shapes=shapes, annotations=annotations, **axes, **legends)

fig.write_html("out.html", config={"displayModeBar": False, "staticPlot": True},
               post_script="document.body.style.margin='0';document.body.style.overflow='hidden';")
